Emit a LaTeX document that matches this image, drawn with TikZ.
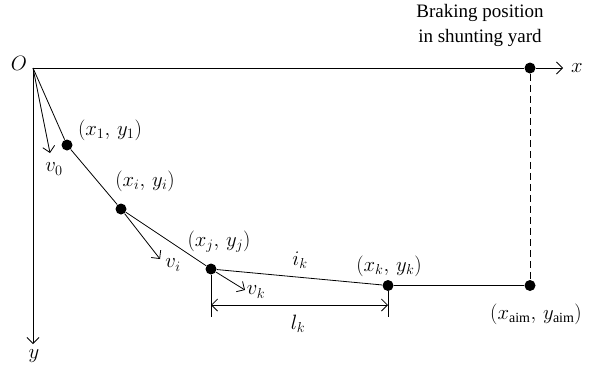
\documentclass[tikz,border=0pt]{standalone}
\usepackage{fontspec}
\setmainfont{Liberation Serif}
\usetikzlibrary{positioning,arrows.meta}
\tikzset{
  pt/.style={circle,fill=black,inner sep=0pt,minimum size=11pt},
  lbl/.style={font=\fontsize{20}{24}\selectfont,inner sep=1pt},
  txt/.style={font=\fontsize{19}{25}\selectfont,align=center,inner sep=0pt},
}

\begin{document}
\begin{tikzpicture}[x=1pt,y=-1pt,>={Straight Barb[length=6pt,width=12pt]},line width=0.8pt]
  \useasboundingbox (0,0) rectangle (594,368);
  % trajectory points
  \coordinate (O) at (33,68);
  \node[pt] (p1) at (67,145) {};
  \node[pt] (pi) at (121,209) {};
  \node[pt] (pj) at (211,269) {};
  \node[pt] (pk) at (388,285.5) {};
  \node[pt] (paim) at (530,285.5) {};
  \node[pt] (pbrake) at (530,68) {};
  % ends of axes and arrows
  \coordinate (xend) at (563,68);
  \coordinate (yend) at (33,344);
  \coordinate (v0end) at (50,153);
  \coordinate (viend) at (160,259);
  \coordinate (vkend) at (245,290);
  \coordinate (dj) at (211,317);
  \coordinate (dk) at (388,317);
  \coordinate (aj) at (211,305);
  \coordinate (ak) at (388,305);

  % axes
  \draw[->] (O) -- (pbrake) -- (xend);
  \draw[->] (O) -- (yend);
  \draw[dash pattern=on 7pt off 4pt] (pbrake) -- (paim);
  % track
  \draw (O) -- (p1) -- (pi) -- (pj) -- (pk) -- (paim);
  % speeds
  \draw[->] (O) -- (v0end);
  \draw[->] (pi) -- (viend);
  \draw[->] (pj) -- (vkend);
  % length l_k
  \draw (pj) -- (dj) (pk) -- (dk);
  \draw[<->] (aj) -- (ak);

  % labels
  \node[lbl] (lO) at (19,63) {$O$};
  \node[lbl] (lx) at (577,68) {$x$};
  \node[lbl] (ly) at (34,356) {$y$};
  \node[lbl] (lv0) at (54,169) {$v_0$};
  \node[lbl] (l1) at (110,130) {$(x_1,\,y_1)$};
  \node[lbl] (li) at (145,181) {$(x_i,\,y_i)$};
  \node[lbl] (lvi) at (173,265) {$v_i$};
  \node[lbl] (lj) at (219,242) {$(x_j,\,y_j)$};
  \node[lbl] (lvk) at (256,292) {$v_k$};
  \node[lbl] (lik) at (300,260) {$i_k$};
  \node[lbl] (lk) at (389,266) {$(x_k,\,y_k)$};
  \node[lbl] (llk) at (298,324) {$l_k$};
  \node[lbl] (laim) at (536,314) {$(x_{\mathrm{aim}},\,y_{\mathrm{aim}})$};
  \node[txt,anchor=north] (lbrake) at (480,4) {Braking position\\in shunting yard};
\end{tikzpicture}
\end{document}
